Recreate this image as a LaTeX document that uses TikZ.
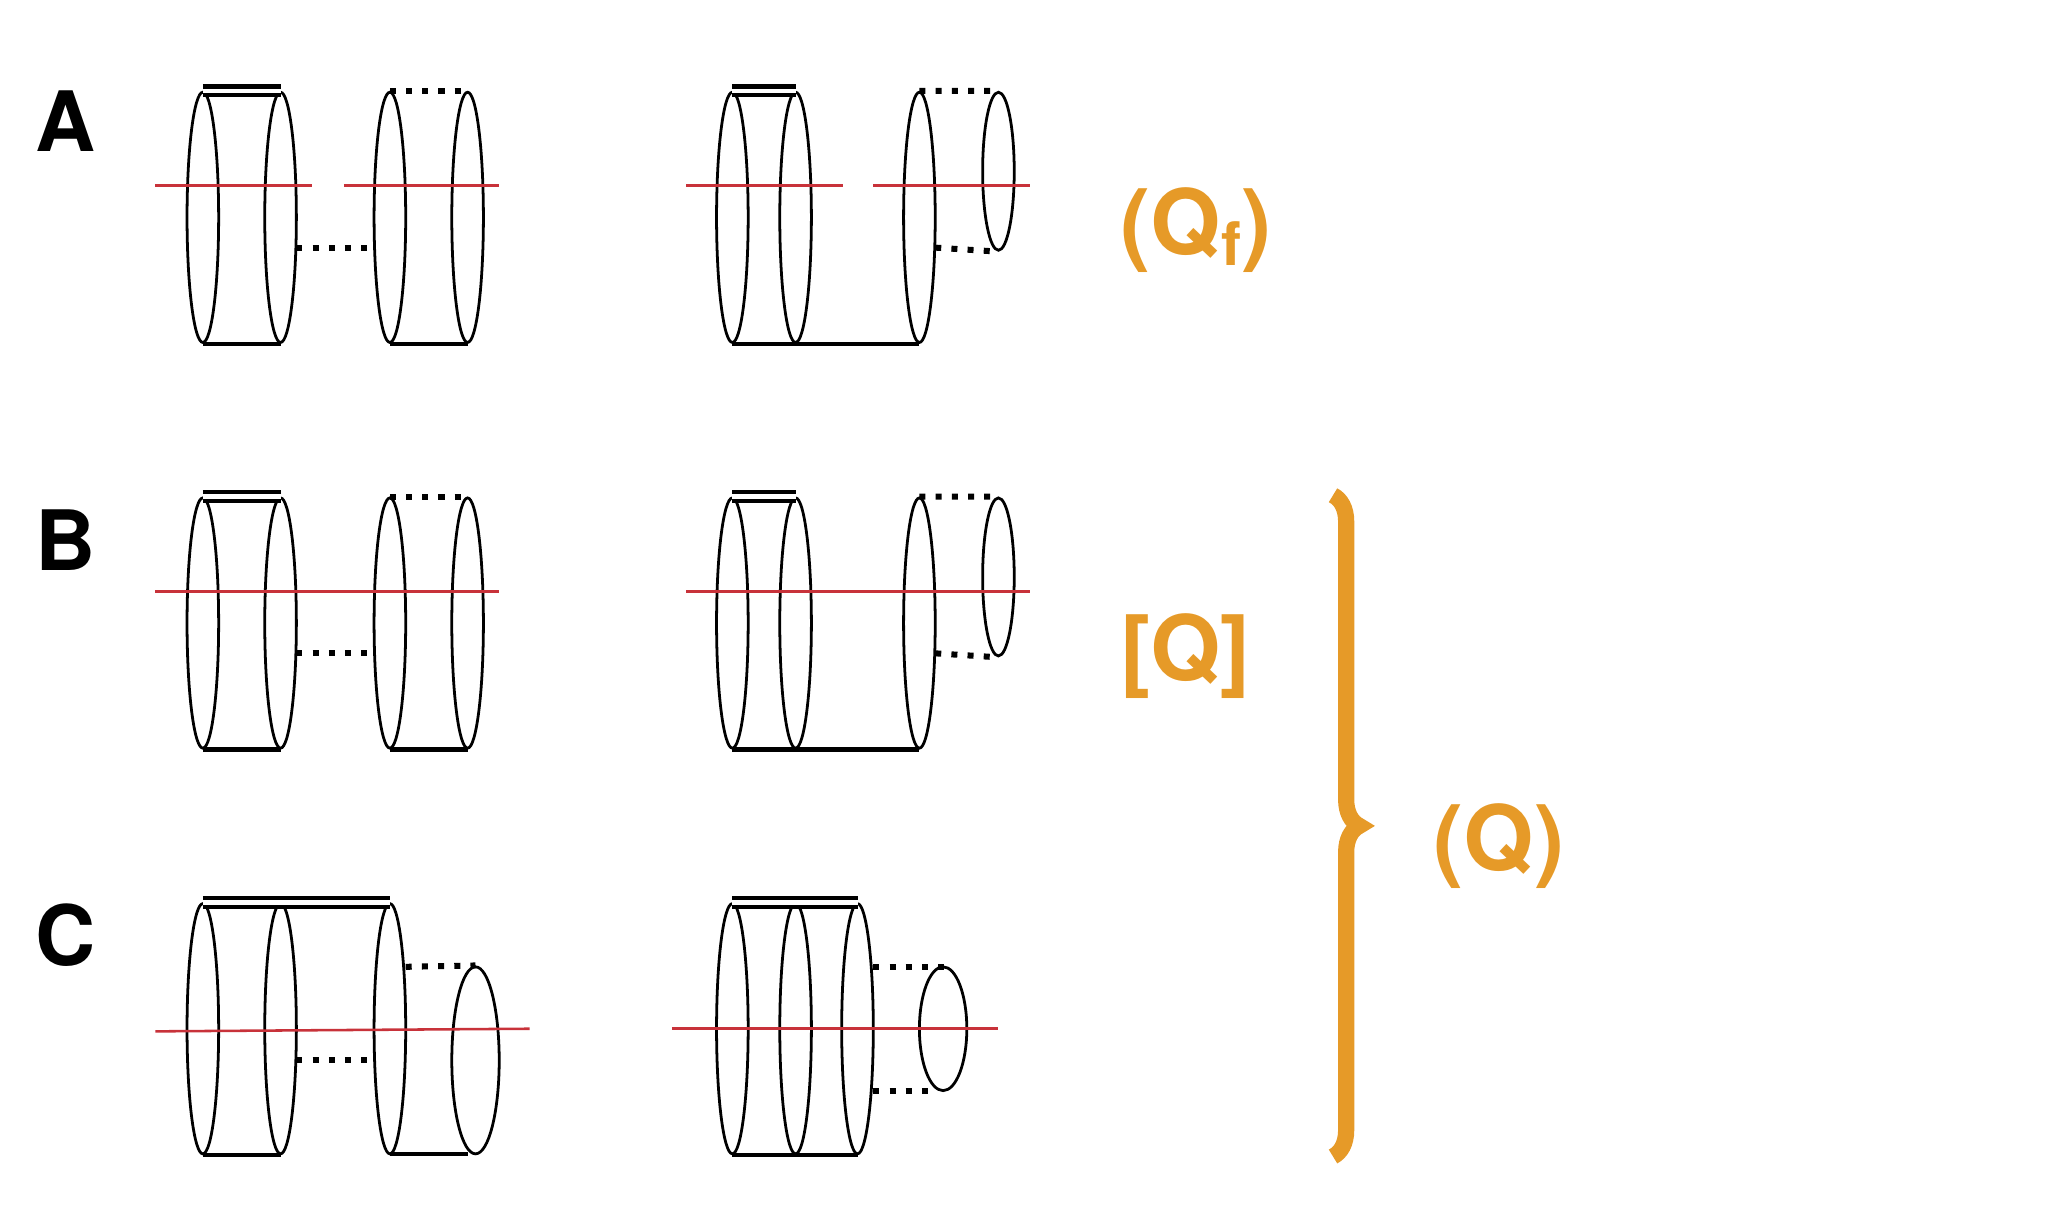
\documentclass[tikz,border=0pt]{standalone}
\usepackage{fontspec}
\setmainfont{TeX Gyre Heros}
\usetikzlibrary{shapes.geometric,decorations.pathreplacing}
\definecolor{qorange}{HTML}{E69A28}
\definecolor{cutred}{HTML}{C8323A}
\tikzset{
  ring/.style={ellipse, draw, line width=1.2pt, inner sep=0pt, minimum width=0.48cm, minimum height=3.8cm},
  smallring/.style={ellipse, draw, line width=1.2pt, inner sep=0pt, minimum width=0.48cm, minimum height=2.4cm},
  capline/.style={line width=1.8pt, double, double distance=0.07cm},
  baseline/.style={line width=1.8pt},
  gap/.style={line width=2.6pt, dash pattern=on 2.6pt off 4.4pt},
  cut/.style={cutred, line width=1.1pt},
  rowlabel/.style={font=\bfseries\fontsize{36}{38}\selectfont},
  qlabel/.style={qorange, font=\bfseries\fontsize{39}{41}\selectfont}
}
\begin{document}
\begin{tikzpicture}[x=0.02cm, y=-0.02cm]
    \useasboundingbox (0,0) rectangle (1570,922);

    % row A
    \node[rowlabel] (lA) at (50,92) {A};
    \node[ring] (a1) at (154,165) {};
    \node[ring] (a2) at (213,165) {};
    \node[ring] (a3) at (296,165) {};
    \node[ring] (a4) at (355,165) {};
    \draw[capline] (a1.north) -- (a2.north);
    \draw[baseline] (a1.south) -- (a2.south);
    \draw[gap] (a3.north) -- (a4.north);
    \draw[baseline] (a3.south) -- (a4.south);
    \coordinate (a5) at (225,188);
    \coordinate (a6) at (285,188);
    \draw[gap] (a5) -- (a6);
    \coordinate (ra1) at (118,141); \coordinate (ra2) at (237,141);
    \coordinate (ra3) at (261,141); \coordinate (ra4) at (379,141);
    \draw[cut] (ra1) -- (ra2);
    \draw[cut] (ra3) -- (ra4);

    \node[ring] (b1) at (556,165) {};
    \node[ring] (b2) at (604,165) {};
    \node[ring] (b3) at (698,165) {};
    \node[smallring] (b4) at (758,130) {};
    \draw[capline] (b1.north) -- (b2.north);
    \draw[baseline] (b1.south) -- (b3.south);
    \draw[gap] (b3.north) -- (b4.north);
    \coordinate (b5) at (710,188);
    \draw[gap] (b5) -- (b4.south);
    \coordinate (rb1) at (521,141); \coordinate (rb2) at (640,141);
    \coordinate (rb3) at (663,141); \coordinate (rb4) at (782,141);
    \draw[cut] (rb1) -- (rb2);
    \draw[cut] (rb3) -- (rb4);
    \node[qlabel] (qf) at (908,175) {(Q\raisebox{-0.12em}{\fontsize{26}{28}\selectfont f})};

    % row B
    \node[rowlabel] (lB) at (50,410) {B};
    \node[ring] (c1) at (154,473) {};
    \node[ring] (c2) at (213,473) {};
    \node[ring] (c3) at (296,473) {};
    \node[ring] (c4) at (355,473) {};
    \draw[capline] (c1.north) -- (c2.north);
    \draw[baseline] (c1.south) -- (c2.south);
    \draw[gap] (c3.north) -- (c4.north);
    \draw[baseline] (c3.south) -- (c4.south);
    \coordinate (c5) at (225,496);
    \coordinate (c6) at (285,496);
    \draw[gap] (c5) -- (c6);
    \coordinate (rc1) at (118,449); \coordinate (rc2) at (379,449);
    \draw[cut] (rc1) -- (rc2);

    \node[ring] (d1) at (556,473) {};
    \node[ring] (d2) at (604,473) {};
    \node[ring] (d3) at (698,473) {};
    \node[smallring] (d4) at (758,438) {};
    \draw[capline] (d1.north) -- (d2.north);
    \draw[baseline] (d1.south) -- (d3.south);
    \draw[gap] (d3.north) -- (d4.north);
    \coordinate (d5) at (710,496);
    \draw[gap] (d5) -- (d4.south);
    \coordinate (rd1) at (521,449); \coordinate (rd2) at (782,449);
    \draw[cut] (rd1) -- (rd2);
    \node[qlabel] (qs) at (900,498) {[Q]};

    % row C
    \node[rowlabel] (lC) at (50,710) {C};
    \node[ring] (e1) at (154,781) {};
    \node[ring] (e2) at (213,781) {};
    \node[ring] (e3) at (296,781) {};
    \node[ring, minimum width=0.72cm, minimum height=2.84cm] (e4) at (361,805) {};
    \draw[capline] (e1.north) -- (e3.north);
    \draw[baseline] (e1.south) -- (e2.south);
    \coordinate (e5) at (296,876); \coordinate (e6) at (355,876);
    \draw[baseline] (e5) -- (e6);
    \coordinate (e7) at (308,734);
    \draw[gap] (e7) -- (e4.north);
    \coordinate (e8) at (225,805); \coordinate (e9) at (285,805);
    \draw[gap] (e8) -- (e9);
    \coordinate (re1) at (118,783); \coordinate (re2) at (402,781);
    \draw[cut] (re1) -- (re2);

    \node[ring] (f1) at (556,781) {};
    \node[ring] (f2) at (604,781) {};
    \node[ring] (f3) at (651,781) {};
    \node[ring, minimum width=0.72cm, minimum height=1.88cm] (f4) at (716,781) {};
    \draw[capline] (f1.north) -- (f3.north);
    \draw[baseline] (f1.south) -- (f3.south);
    \coordinate (f5) at (663,734); \coordinate (f6) at (722,734);
    \coordinate (f7) at (663,828); \coordinate (f8) at (710,828);
    \draw[gap] (f5) -- (f6);
    \draw[gap] (f7) -- (f8);
    \coordinate (rf1) at (510,781); \coordinate (rf2) at (758,781);
    \draw[cut] (rf1) -- (rf2);

    % brace
    \coordinate (br1) at (1012,376);
    \coordinate (br2) at (1012,878);
    \draw[qorange, line width=7pt, decorate, decoration={brace, amplitude=0.4cm}] (br1) -- (br2);
    \node[qlabel] (qa) at (1138,642) {(Q)};
\end{tikzpicture}
\end{document}
